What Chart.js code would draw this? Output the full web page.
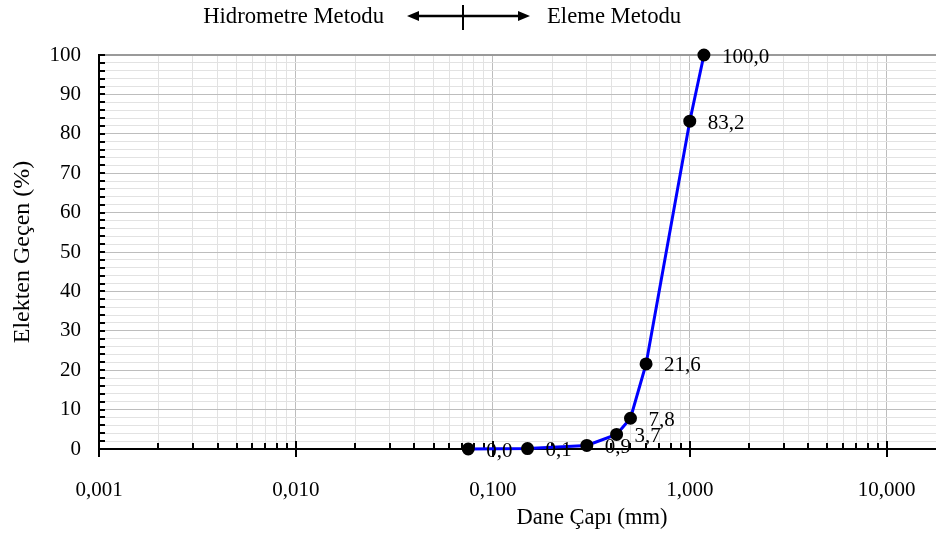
<!DOCTYPE html>
<html>
<head>
<meta charset="utf-8">
<script src="https://cdn.jsdelivr.net/npm/chart.js@4/dist/chart.umd.min.js"></script>
<style>
  html, body { margin: 0; padding: 0; background: #ffffff; }
  #wrap { width: 936px; height: 535px; }
</style>
</head>
<body>
<div id="wrap"><canvas id="c" width="936" height="535"></canvas></div>
<script>
// Sieve analysis: grain size (mm) vs. percent passing
const grainSize = [0.075, 0.15, 0.3, 0.425, 0.5, 0.6, 1.0, 1.18];
const percentPassing = [0.0, 0.1, 0.9, 3.7, 7.8, 21.6, 83.2, 100.0];
const xDecades = [0.001, 0.01, 0.1, 1, 10];
const yMajorTicks = [0, 10, 20, 30, 40, 50, 60, 70, 80, 90, 100];

const FONT = "'Liberation Serif', 'Times New Roman', serif";
const fmtComma = (v, d) => v.toFixed(d).replace('.', ',');
const isDecade = v => xDecades.some(d => Math.abs(v - d) / d < 1e-6);

// every 1..9 multiple inside each decade, used for grid lines and tick marks
const xGridValues = [];
xDecades.forEach((d, i) => {
  if (i === xDecades.length - 1) { xGridValues.push(d); return; }
  for (let m = 1; m <= 9; m++) xGridValues.push(+(d * m).toPrecision(6));
});

const tickMarks = {
  id: 'tickMarks',
  beforeDatasetsDraw(chart) {
    const { ctx, chartArea, scales } = chart;
    const x = scales.x, y = scales.y;
    ctx.save();
    ctx.strokeStyle = '#000';
    ctx.lineWidth = 2;
    xGridValues.forEach(v => {
      const px = Math.round(x.getPixelForValue(v));
      ctx.beginPath();
      if (isDecade(v)) {
        ctx.moveTo(px, chartArea.bottom - 8);
        ctx.lineTo(px, chartArea.bottom + 8);
      } else {
        ctx.moveTo(px, chartArea.bottom - 6);
        ctx.lineTo(px, chartArea.bottom);
      }
      ctx.stroke();
    });
    for (let v = 0; v <= 100; v += 2) {
      const py = Math.round(y.getPixelForValue(v));
      ctx.beginPath();
      ctx.moveTo(chartArea.left, py);
      ctx.lineTo(chartArea.left + 6, py);
      ctx.stroke();
    }
    ctx.restore();
  }
};

const pointLabels = {
  id: 'pointLabels',
  afterDatasetsDraw(chart) {
    const { ctx } = chart;
    const meta = chart.getDatasetMeta(0);
    ctx.save();
    ctx.font = '21px ' + FONT;
    ctx.fillStyle = '#000';
    ctx.textAlign = 'left';
    ctx.textBaseline = 'middle';
    meta.data.forEach((pt, i) => {
      ctx.fillText(fmtComma(percentPassing[i], 1), pt.x + 18, pt.y + 2);
    });
    ctx.restore();
  }
};

const titlesAndHeader = {
  id: 'titlesAndHeader',
  afterDraw(chart) {
    const { ctx } = chart;
    const cy = 16, mid = 463, l = 407, r = 530;
    ctx.save();
    ctx.fillStyle = '#000';
    ctx.textBaseline = 'middle';
    // x axis title
    ctx.font = '22.5px ' + FONT;
    ctx.textAlign = 'center';
    ctx.fillText('Dane Çapı (mm)', 592, 518);
    // method header above the plot
    ctx.font = '22.7px ' + FONT;
    ctx.textAlign = 'right';
    ctx.fillText('Hidrometre Metodu', 384, cy + 1);
    ctx.textAlign = 'left';
    ctx.fillText('Eleme Metodu', 547, cy + 1);
    ctx.strokeStyle = '#000';
    ctx.lineWidth = 2.5;
    ctx.beginPath();
    ctx.moveTo(l + 8, cy); ctx.lineTo(r - 8, cy);
    ctx.stroke();
    ctx.lineWidth = 2;
    ctx.beginPath();
    ctx.moveTo(mid, 5); ctx.lineTo(mid, 30);
    ctx.stroke();
    ctx.beginPath();
    ctx.moveTo(l, cy); ctx.lineTo(l + 12, cy - 5); ctx.lineTo(l + 12, cy + 5); ctx.closePath();
    ctx.moveTo(r, cy); ctx.lineTo(r - 12, cy - 5); ctx.lineTo(r - 12, cy + 5); ctx.closePath();
    ctx.fill();
    ctx.restore();
  }
};

new Chart(document.getElementById('c'), {
  type: 'line',
  data: {
    datasets: [{
      data: grainSize.map((g, i) => ({ x: g, y: percentPassing[i] })),
      borderColor: '#0000ff',
      borderWidth: 3,
      pointBackgroundColor: '#000',
      pointBorderColor: '#000',
      pointRadius: 5,
      tension: 0,
      clip: false
    }]
  },
  options: {
    responsive: false,
    animation: false,
    devicePixelRatio: 1,
    layout: { autoPadding: false, padding: { top: 55, right: 0, bottom: 0, left: 0 } },
    plugins: { legend: { display: false }, tooltip: { enabled: false } },
    scales: {
      x: {
        type: 'logarithmic',
        min: 0.001,
        max: 17.8,
        afterBuildTicks: s => { s.ticks = xGridValues.map(v => ({ value: v })); },
        afterFit: s => { s.height = 86; s.paddingLeft = 0; s.paddingRight = 0; },
        ticks: {
          autoSkip: false,
          maxRotation: 0,
          padding: 29,
          color: '#000',
          font: { family: FONT, size: 21 },
          callback: v => isDecade(v) ? fmtComma(v, 3) : ''
        },
        grid: {
          drawTicks: false,
          color: c => isDecade(c.tick.value) ? '#bdbdbd' : '#e2e2e2',
          lineWidth: 1
        },
        border: { display: true, color: '#000', width: 2 }
      },
      y: {
        min: 0,
        max: 100,
        afterBuildTicks: s => {
          const t = [];
          for (let v = 0; v <= 100; v += 2) t.push({ value: v });
          s.ticks = t;
        },
        afterFit: s => { s.width = 99; s.paddingTop = 0; s.paddingBottom = 0; },
        ticks: {
          autoSkip: false,
          padding: 18,
          color: '#000',
          font: { family: FONT, size: 21 },
          callback: v => yMajorTicks.includes(v) ? String(v) : ''
        },
        grid: {
          drawTicks: false,
          color: c => c.tick.value === 100 ? '#9a9a9a' : (c.tick.value % 10 === 0 ? '#bdbdbd' : '#e2e2e2'),
          lineWidth: c => c.tick.value === 100 ? 2 : 1
        },
        border: { display: true, color: '#000', width: 2 },
        title: {
          display: true,
          text: 'Elekten Geçen (%)',
          color: '#000',
          font: { family: FONT, size: 24 },
          padding: { top: 8, bottom: 0 }
        }
      }
    }
  },
  plugins: [tickMarks, pointLabels, titlesAndHeader]
});
</script>
</body>
</html>
